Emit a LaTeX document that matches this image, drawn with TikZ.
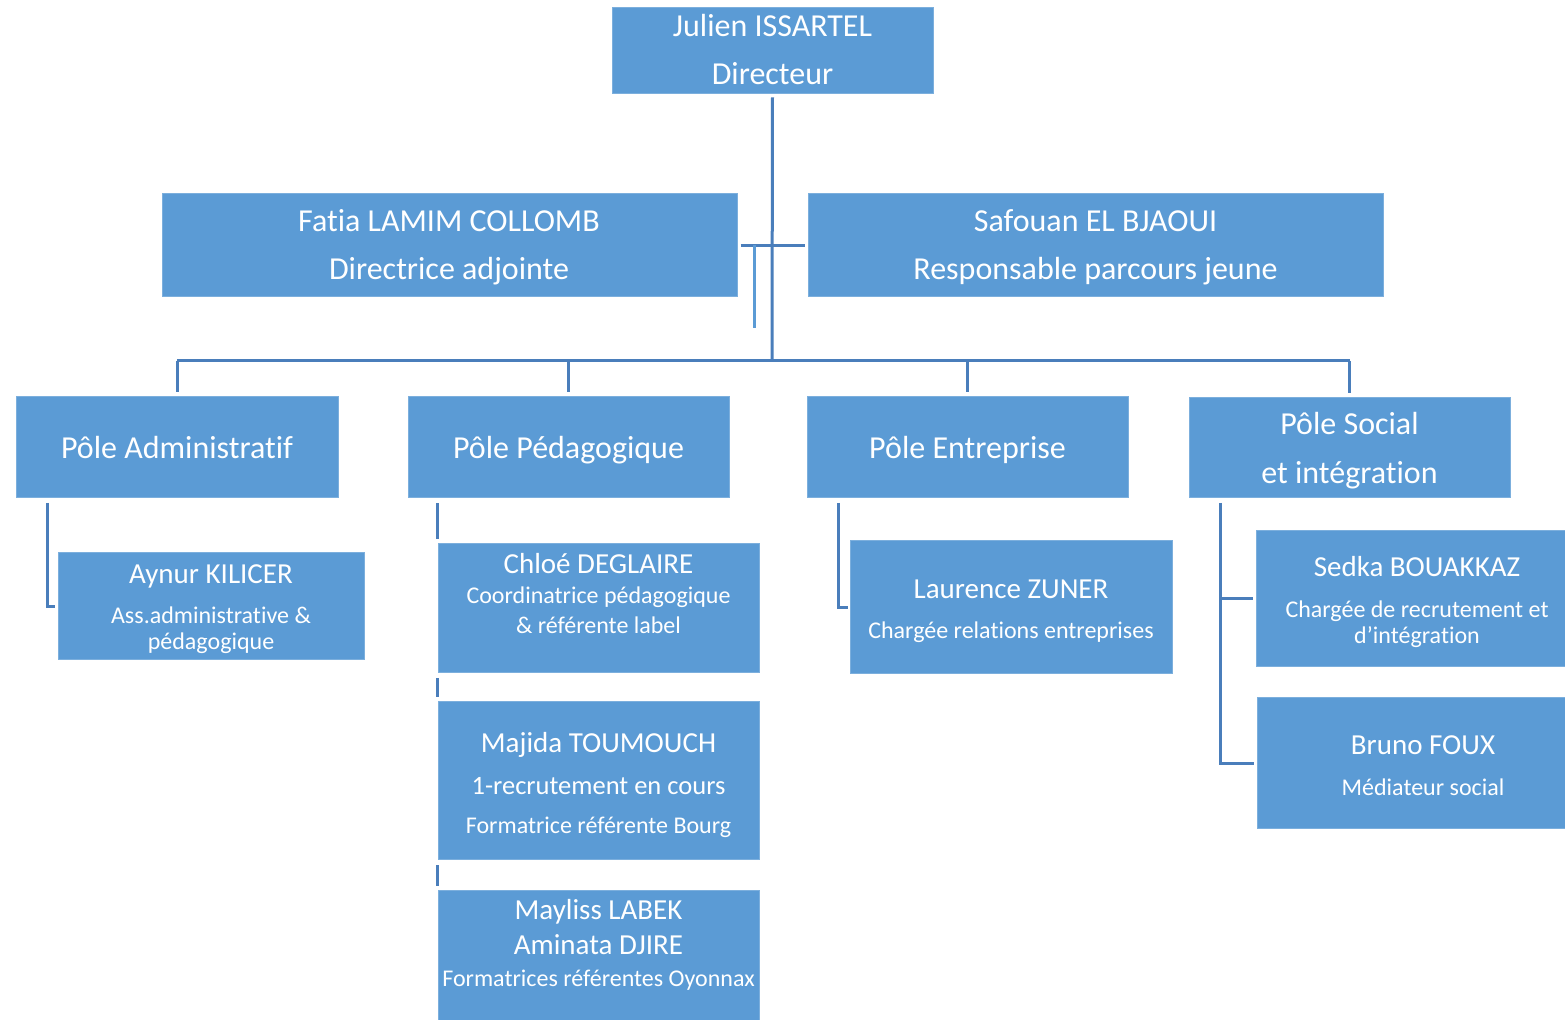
\documentclass[tikz,border=0pt]{standalone}
\usepackage{fontspec}
\setmainfont{Carlito}[Ligatures=CommonOff]
\definecolor{boxblue}{HTML}{5B9BD5}
\definecolor{linkblue}{HTML}{4A7EBB}
\tikzset{
  orgrect/.style={rectangle, fill=boxblue, draw=boxblue!80!white, line width=0.5pt, inner sep=0pt},
  orglbl/.style={anchor=base, inner sep=0pt, text=white},
  conn/.style={draw=linkblue, line width=1.5pt},
  stubline/.style={draw=boxblue, line width=1.5pt},
}
\newcommand\orgbox[5]{\node[orgrect, minimum width={(#4-#2)*0.5pt}, minimum height={(#5-#3)*0.5pt}] (#1) at ({(#2+#4)/2},{(#3+#5)/2}) {};}
\newcommand\orgtxt[5]{\node[orglbl, font=\fontsize{#4}{#4}\selectfont] (#1) at (#2,{#3+2}) {#5};}
\begin{document}
\begin{tikzpicture}[x=0.5pt,y=-0.5pt]
\useasboundingbox (0,0) rectangle (1565,1020);
\fill[white] (0,0) rectangle (1565,1020);
\clip (0,0) rectangle (1565,1020);

% boxes
\orgbox{dir}{612}{8}{933}{94}
\orgbox{fatia}{162}{194}{737}{297}
\orgbox{safouan}{808}{194}{1383}{297}
\orgbox{adm}{16}{397}{338}{498}
\orgbox{ped}{408}{397}{729}{498}
\orgbox{ent}{807}{397}{1128}{498}
\orgbox{soc}{1189}{398}{1510}{498}
\orgbox{aynur}{58}{553}{364}{660}
\orgbox{chloe}{438}{544}{759}{673}
\orgbox{majida}{438}{702}{759}{860}
\orgbox{mayliss}{438}{891}{759}{1040}
\orgbox{laurence}{850}{541}{1172}{674}
\orgbox{sedka}{1256}{531}{1578}{667}
\orgbox{bruno}{1257}{698}{1589}{829}

% texts
\orgtxt{dir-a}{772.5}{35}{16}{Julien ISSARTEL}
\orgtxt{dir-b}{772.5}{83}{16}{Directeur}
\orgtxt{fatia-a}{449}{230}{16}{Fatia LAMIM COLLOMB}
\orgtxt{fatia-b}{449}{278}{16}{Directrice adjointe}
\orgtxt{safouan-a}{1095.5}{230}{16}{Safouan EL BJAOUI}
\orgtxt{safouan-b}{1095.5}{278}{16}{Responsable parcours jeune}
\orgtxt{adm-a}{177}{457}{16}{Pôle Administratif}
\orgtxt{ped-a}{568.5}{457}{16}{Pôle Pédagogique}
\orgtxt{ent-a}{967.5}{457}{16}{Pôle Entreprise}
\orgtxt{soc-a}{1349.5}{433}{16}{Pôle Social}
\orgtxt{soc-b}{1349.5}{482}{16}{et intégration}
\orgtxt{aynur-a}{211}{582}{14.5}{Aynur KILICER}
\orgtxt{aynur-b}{211}{622}{12}{Ass.administrative \&}
\orgtxt{aynur-c}{211}{648}{12}{pédagogique}
\orgtxt{chloe-a}{598.5}{572}{14.5}{Chloé DEGLAIRE}
\orgtxt{chloe-b}{598.5}{602}{12}{Coordinatrice pédagogique}
\orgtxt{chloe-c}{598.5}{632}{12}{\& référente label}
\orgtxt{majida-a}{598.5}{751}{14.5}{Majida TOUMOUCH}
\orgtxt{majida-b}{598.5}{793}{13.25}{1-recrutement en cours}
\orgtxt{majida-c}{598.5}{832}{12}{Formatrice référente Bourg}
\orgtxt{mayliss-a}{598.5}{918}{14.5}{Mayliss LABEK}
\orgtxt{mayliss-b}{598.5}{953}{14.5}{Aminata DJIRE}
\orgtxt{mayliss-c}{598.5}{985}{12}{Formatrices référentes Oyonnax}
\orgtxt{laurence-a}{1011}{597}{14.5}{Laurence ZUNER}
\orgtxt{laurence-b}{1011}{637}{12}{Chargée relations entreprises}
\orgtxt{sedka-a}{1417}{575}{14.5}{Sedka BOUAKKAZ}
\orgtxt{sedka-b}{1417}{616}{12}{Chargée de recrutement et}
\orgtxt{sedka-c}{1417}{642}{12}{d’intégration}
\orgtxt{bruno-a}{1423}{753}{14.5}{Bruno FOUX}
\orgtxt{bruno-b}{1423}{794}{12}{Médiateur social}

% connectors
\coordinate (hub) at (772,361);
\coordinate (fstub) at (754,328);
\coordinate (a1) at (47,503);
\coordinate (e1) at (838,503);
\coordinate (s1) at (1220,503);

\draw[conn, shorten <=1.5pt] (dir.south) -- (hub);
\draw[conn, shorten <=1.5pt, shorten >=1.5pt] (fatia.east) -- (safouan.west);
\draw[stubline] (fstub |- fatia.east) -- (fstub);
\draw[conn] (hub -| adm.north) -- (hub -| soc.north);
\draw[conn, shorten >=2pt] (hub -| adm.north) -- (adm.north);
\draw[conn, shorten >=2pt] (hub -| ped.north) -- (ped.north);
\draw[conn, shorten >=2pt] (hub -| ent.north) -- (ent.north);
\draw[conn, shorten >=2pt] (hub -| soc.north) -- (soc.north);

\draw[conn, shorten >=1.5pt] (a1) |- (aynur.west);
\draw[conn, shorten <=2.5pt, shorten >=2pt] (ped.south -| chloe.west) -- (chloe.north west);
\draw[conn, shorten <=2.5pt, shorten >=2pt] (chloe.south west) -- (majida.north west);
\draw[conn, shorten <=2.5pt, shorten >=2pt] (majida.south west) -- (mayliss.north west);
\draw[conn, shorten >=1pt] (e1) |- (laurence.west);
\draw[conn, shorten >=1.5pt] (s1) |- (bruno.west);
\draw[conn, shorten >=1.5pt] (s1 |- sedka.west) -- (sedka.west);
\end{tikzpicture}
\end{document}
